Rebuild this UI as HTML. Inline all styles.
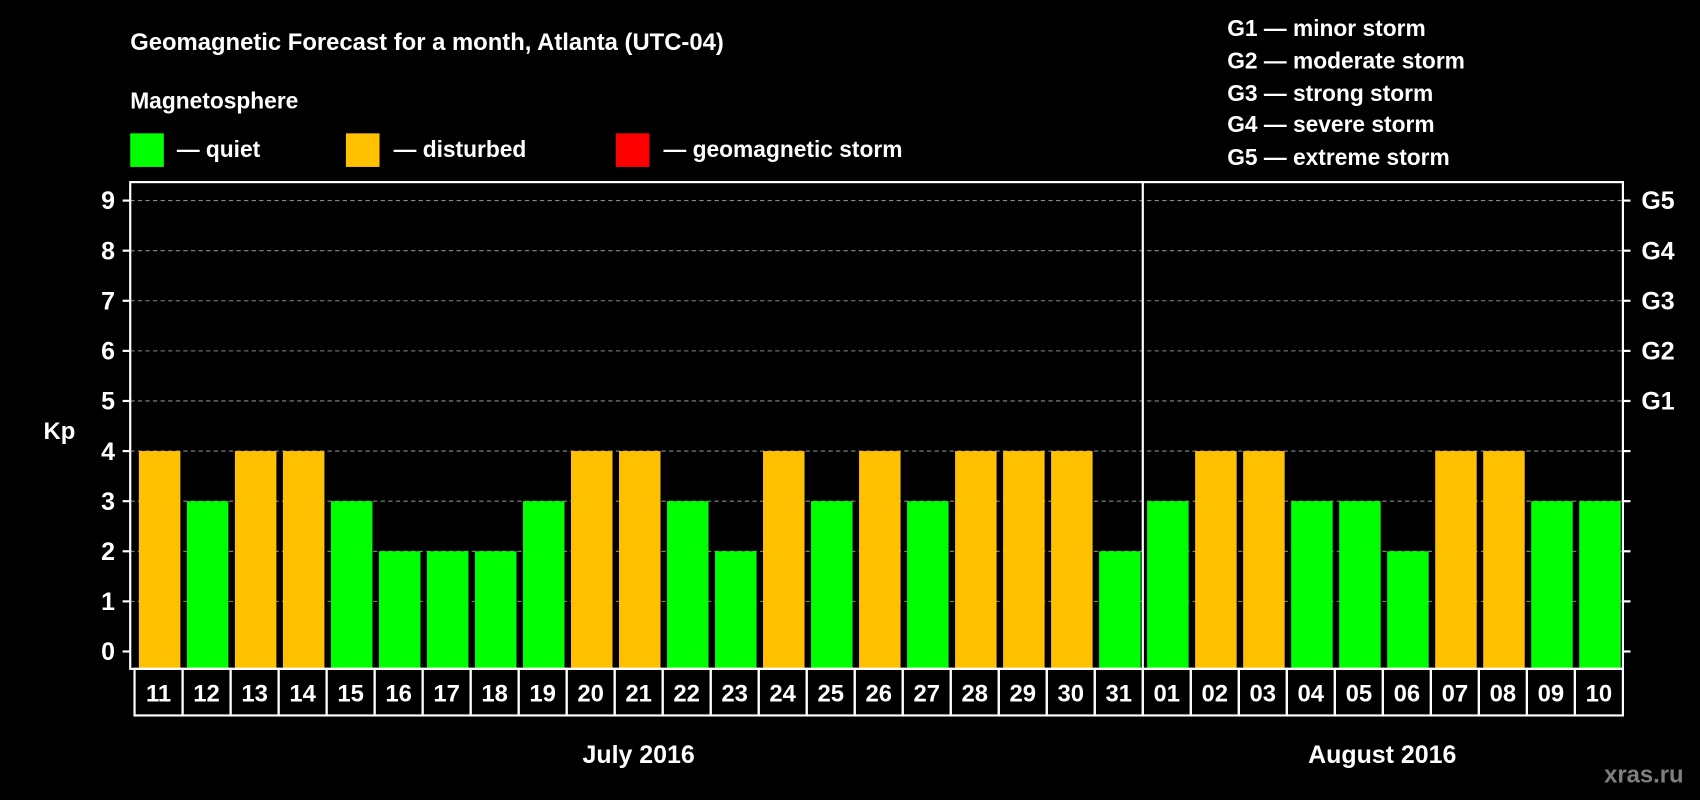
<!DOCTYPE html>
<html><head><meta charset="utf-8"><style>
html,body{margin:0;padding:0;background:#000;}
svg{display:block;}
text{font-family:"Liberation Sans",Arial,sans-serif;font-weight:bold;fill:#fff;}
</style></head><body>
<svg id="chart" width="1700" height="800" viewBox="0 0 1568 738" xmlns="http://www.w3.org/2000/svg">
<rect width="1568" height="738" fill="#000"/>
<text x="120" y="46" font-size="22">Geomagnetic Forecast for a month, Atlanta (UTC-04)</text>
<text x="120" y="100" font-size="21">Magnetosphere</text>
<rect x="120" y="123" width="31" height="31" fill="#00ff00"/>
<text x="163" y="145" font-size="21">— quiet</text>
<rect x="319" y="123" width="31" height="31" fill="#ffc000"/>
<text x="363" y="145" font-size="21">— disturbed</text>
<rect x="568" y="123" width="31" height="31" fill="#ff0000"/>
<text x="612" y="145" font-size="21">— geomagnetic storm</text>
<g font-size="21">
<text x="1132" y="33">G1 — minor storm</text>
<text x="1132" y="63">G2 — moderate storm</text>
<text x="1132" y="93">G3 — strong storm</text>
<text x="1132" y="122">G4 — severe storm</text>
<text x="1132" y="152">G5 — extreme storm</text>
</g>
<text x="40" y="405" font-size="22">Kp</text>
<g id="plot"></g>
<text x="589" y="704" font-size="23" text-anchor="middle">July 2016</text>
<text x="1275" y="704" font-size="23" text-anchor="middle">August 2016</text>
<text x="1553" y="722" font-size="22" text-anchor="end" style="fill:#7f7f7f">xras.ru</text>
</svg>
<script>
const days=["11","12","13","14","15","16","17","18","19","20","21","22","23","24","25","26","27","28","29","30","31","01","02","03","04","05","06","07","08","09","10"];
const kp=[4,3,4,4,3,2,2,2,3,4,4,3,2,4,3,4,3,4,4,4,2,3,4,4,3,3,2,4,4,3,3];
const yTicks=[0,1,2,3,4,5,6,7,8,9];
const gLabels=["G1","G2","G3","G4","G5"];
const NS="http://www.w3.org/2000/svg";
const g=document.getElementById("plot");
const L=120,R=1497,T=168,B=617,cx0=124,cw=(R-cx0)/days.length;
const y=v=>601-v*46.22;
const x=i=>cx0+i*cw;
function mk(t,a){const e=document.createElementNS(NS,t);for(const k in a)e.setAttribute(k,a[k]);g.appendChild(e);return e;}
yTicks.forEach(v=>{
  if(v>0){const gl=mk("line",{x1:L,x2:R,y1:y(v),y2:y(v),stroke:"#888","stroke-dasharray":"4,3","stroke-width":1});
  
  }
  const t=mk("line",{x1:L-7,x2:L,y1:y(v),y2:y(v),stroke:"#fff","stroke-width":2});
  
  
  const t2=mk("line",{x1:R,x2:R+7,y1:y(v),y2:y(v),stroke:"#fff","stroke-width":2});
  
  
  const lb=mk("text",{x:L-14,y:y(v)+8,"font-size":23,"text-anchor":"end"});lb.textContent=v;
  
  
});
gLabels.forEach((s,i)=>{
  const lb=mk("text",{x:R+17,y:y(5+i)+8,"font-size":23});lb.textContent=s;
  
  
});
kp.forEach((v,i)=>{
  const col=v>=5?"#ff0000":(v>=4?"#ffc000":"#00ff00");
  const b=mk("rect",{x:x(i)+4,y:y(v),width:cw-6,height:B-y(v),fill:col});
  
  
  const c=mk("rect",{x:x(i),y:B,width:cw,height:43,fill:"none",stroke:"#fff","stroke-width":2});
  
  
  const t=mk("text",{x:x(i)+cw/2,y:B+30,"font-size":22,"text-anchor":"middle"});t.textContent=days[i];
  
  
});
const fr=mk("rect",{x:L,y:T,width:R-L,height:B-T,fill:"none",stroke:"#fff","stroke-width":2});


const mi=days.indexOf("01");
const dv=mk("line",{x1:x(mi),x2:x(mi),y1:T,y2:B,stroke:"#fff","stroke-width":2});


</script>
</body></html>
